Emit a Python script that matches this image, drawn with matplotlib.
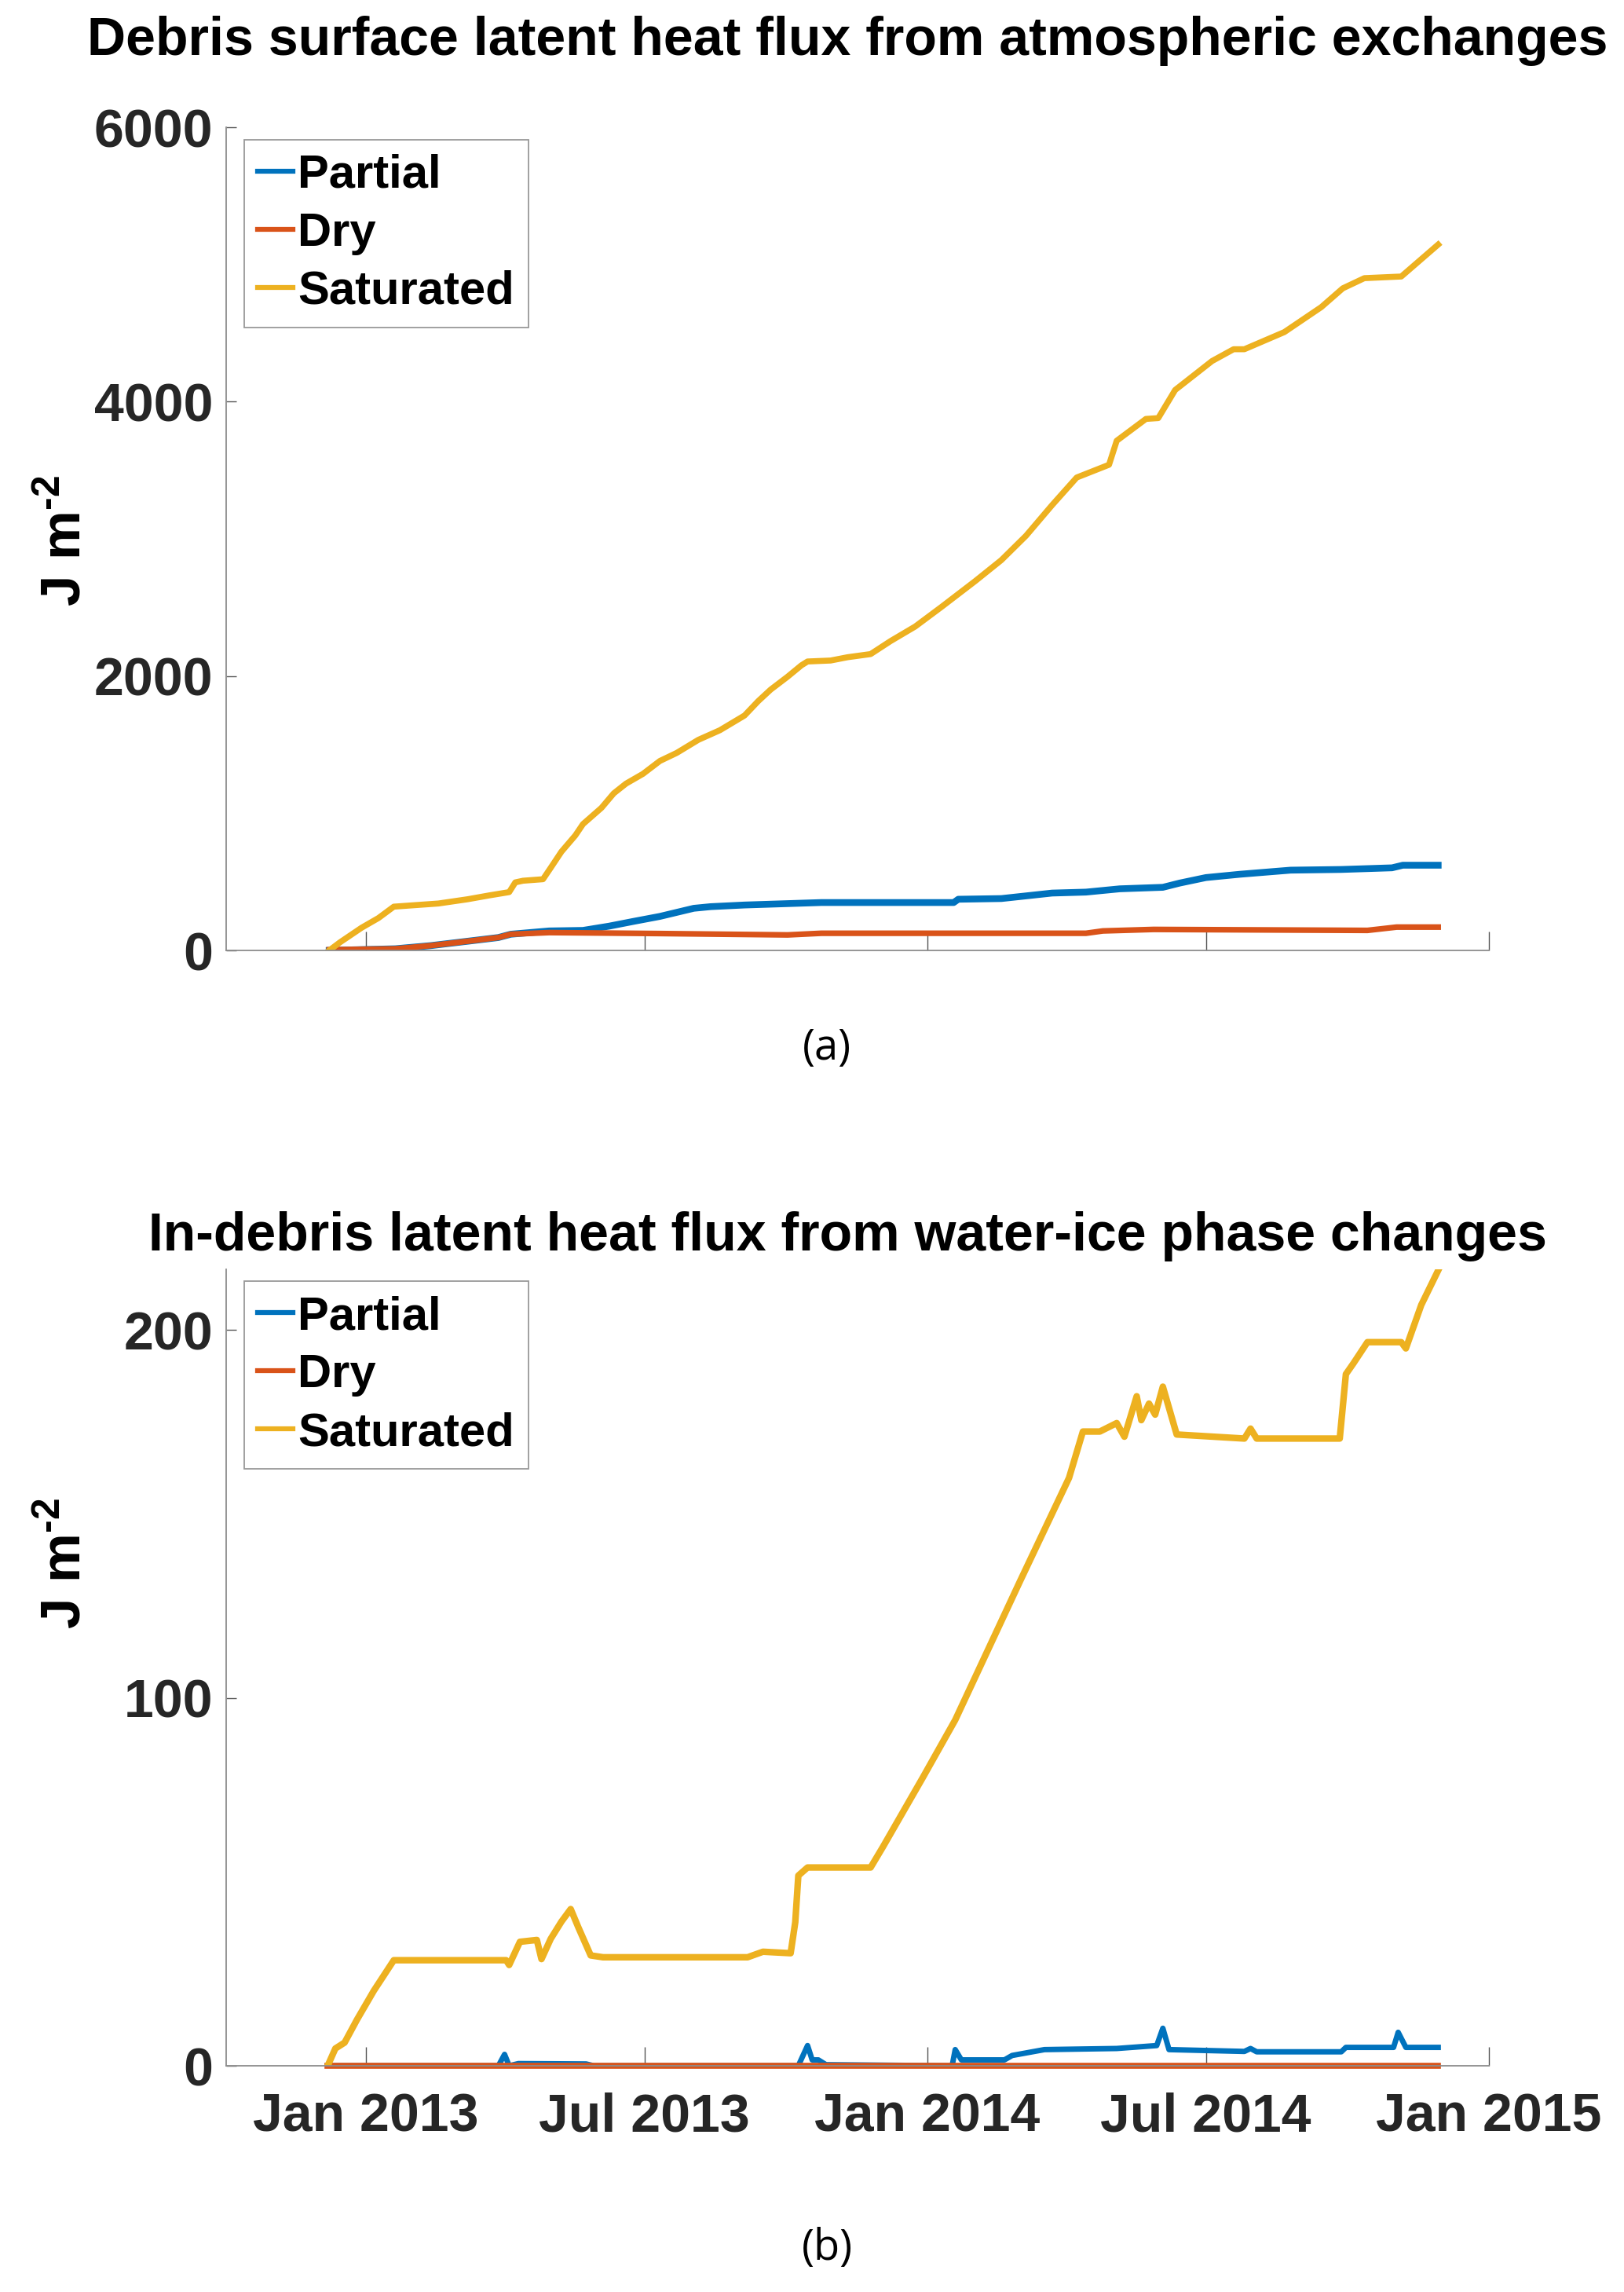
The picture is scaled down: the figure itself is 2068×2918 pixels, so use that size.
import numpy as np
import matplotlib
matplotlib.use("Agg")
import matplotlib.pyplot as plt

# ---------------- data (days since 2013-01-01, values in J m^-2) ----------------
sat_a_day = [-24, -17, -3, 8, 18, 47, 66, 80, 93, 97, 102, 115, 120, 127, 136, 141, 147, 153, 161, 169,
             180, 191, 202, 216, 230, 246, 255, 263, 274, 283, 287, 302, 313, 328, 341, 357, 374, 396,
             413, 429, 446, 462, 483, 488, 507, 515, 526, 550, 564, 571, 597, 621, 635, 649, 673, 697]
sat_a_val = [0, 59, 165, 236, 319, 342, 373, 401, 425, 496, 508, 519, 602, 720, 838, 921, 980, 1039, 1145, 1216,
             1287, 1381, 1440, 1535, 1605, 1712, 1818, 1901, 1995, 2078, 2106, 2113, 2137, 2160, 2255, 2361, 2503, 2692,
             2845, 3022, 3246, 3447, 3540, 3715, 3874, 3880, 4085, 4296, 4382, 4382, 4507, 4689, 4826, 4900, 4912, 5145]

par_a_day = [-24, 19, 42, 69, 86, 94, 119, 141, 158, 174, 191, 213, 224, 246, 296, 382, 385, 413, 446, 468,
             490, 518, 529, 546, 568, 601, 634, 667, 674, 697]
par_a_val = [0, 12, 35, 71, 94, 118, 142, 146, 177, 212, 248, 307, 319, 331, 349, 349, 373, 378, 418, 425,
             449, 460, 491, 531, 555, 585, 590, 602, 621, 621]

dry_a_day = [-24, 19, 42, 69, 86, 94, 119, 191, 274, 296, 468, 479, 512, 651, 670, 697]
dry_a_val = [5, 12, 35, 71, 94, 118, 130, 123, 113, 125, 125, 142, 153, 146, 170, 170]

sat_b_day = [-25, -20, -14, -6, 5, 18, 91, 93, 100, 111, 114, 120, 127, 133, 138, 146, 154, 248, 258, 276,
             279, 281, 287, 328, 336, 362, 383, 404, 425, 441, 457, 466, 477, 488, 493, 501, 504, 509, 513,
             518, 527, 571, 575, 579, 633, 637, 642, 651, 673, 676, 686, 697]
sat_b_val = [0, 4.7, 6.3, 12.5, 20.4, 28.7, 28.7, 27.4, 33.7, 34.2, 29.0, 34.5, 39.2, 42.6, 37.6, 30.0, 29.5, 29.5, 31.0, 30.6,
             39.0, 51.7, 53.9, 53.9, 59.5, 78.4, 94.0, 112.8, 131.6, 145.7, 159.8, 172.4, 172.4, 174.7, 171.0, 182.0, 175.5, 180.0, 177.0,
             184.6, 171.6, 170.5, 173.2, 170.5, 170.5, 188.0, 191.0, 196.7, 196.7, 195.0, 206.8, 216.2]

par_b_day = [-25, 86, 90, 93, 99, 143, 148, 281, 287, 290, 294, 299, 381, 383, 387, 415, 420, 441, 488, 514,
             518, 522, 571, 575, 579, 634, 637, 668, 671, 676, 697]
par_b_val = [0, 0, 3.1, 0, 0.6, 0.5, 0, 0, 5.5, 1.6, 1.6, 0.3, 0, 4.4, 1.6, 1.6, 2.8, 4.4, 4.7, 5.5,
             10.2, 4.4, 3.9, 4.7, 3.8, 3.8, 5.0, 5.0, 9.1, 5.0, 5.0]

dry_b_day = [-25, 697]
dry_b_val = [0, 0]

series_names = ["Partial", "Dry", "Saturated"]
colors = ["#0072BD", "#D95319", "#EDB120"]

title_a = "Debris surface latent heat flux from atmospheric exchanges"
title_b = "In-debris latent heat flux from water-ice phase changes"
ylabel = r"J m$^{\text{-2}}$"

# ---------------- helpers ----------------
base = np.datetime64("2013-01-01")
def to_dates(days):
    return (base + np.array(days, dtype="timedelta64[D]")).astype("datetime64[D]").astype(object)

plt.rcParams["font.family"] = ["Liberation Sans", "DejaVu Sans"]
plt.rcParams["mathtext.fontset"] = "custom"
plt.rcParams["mathtext.rm"] = "Liberation Sans:bold"
plt.rcParams["mathtext.bf"] = "Liberation Sans:bold"
plt.rcParams["mathtext.it"] = "Liberation Sans:bold"

W, H = 2068, 2918
fig = plt.figure(figsize=(W / 100, H / 100), dpi=100)

ax_a = fig.add_axes([288 / W, 1 - 1210 / H, 1608 / W, 1048 / H])
ax_b = fig.add_axes([288 / W, 1 - 2630 / H, 1608 / W, 1014 / H])

xlim = (np.datetime64("2012-10-02").astype(object), np.datetime64("2015-01-01").astype(object))
xticks = [np.datetime64(d).astype(object) for d in ["2013-01-01", "2013-07-01", "2014-01-01", "2014-07-01", "2015-01-01"]]
xticklabels = ["Jan 2013", "Jul 2013", "Jan 2014", "Jul 2014", "Jan 2015"]

TICK_FS = 49
LEG_FS = 43

def style(ax, yticks, ylim, show_xlabels):
    for s in ["top", "right"]:
        ax.spines[s].set_visible(False)
    for s in ["left", "bottom"]:
        ax.spines[s].set_color("#8c8c8c")
        ax.spines[s].set_linewidth(1.3)
    ax.set_xlim(*xlim)
    ax.set_ylim(*ylim)
    ax.set_xticks(xticks)
    ax.set_yticks(yticks)
    ax.set_yticklabels([str(t) for t in yticks], fontsize=TICK_FS, fontweight="bold", color="#262626")
    if show_xlabels:
        ax.set_xticklabels(xticklabels, fontsize=TICK_FS, fontweight="bold", color="#262626")
    else:
        ax.set_xticklabels([])
    ax.tick_params(axis="x", direction="in", length=17, width=1.0, color="#555555", pad=24)
    ax.tick_params(axis="y", direction="in", length=9, width=1.0, color="#555555", pad=12)
    leg = ax.legend(loc="upper left", bbox_to_anchor=(0.014, 0.985), fontsize=LEG_FS, frameon=True,
                    fancybox=False, handlelength=0.75, handletextpad=0.1, borderpad=0.3,
                    labelspacing=0.32, borderaxespad=0.0)
    leg.get_frame().set_edgecolor("#7f7f7f")
    leg.get_frame().set_linewidth(1.3)
    for t in leg.get_texts():
        t.set_fontweight("bold")
    for lh in leg.get_lines():
        lh.set_linewidth(4.5)

# Panel (a)
ax_a.plot(to_dates(par_a_day), par_a_val, color=colors[0], lw=6.2, label=series_names[0], solid_joinstyle="round")
ax_a.plot(to_dates(dry_a_day), dry_a_val, color=colors[1], lw=5.2, label=series_names[1], solid_joinstyle="round")
ax_a.plot(to_dates(sat_a_day), sat_a_val, color=colors[2], lw=5.5, label=series_names[2], solid_joinstyle="round")
style(ax_a, [0, 2000, 4000, 6000], (0, 6000), False)

# Panel (b)
ax_b.plot(to_dates(par_b_day), par_b_val, color=colors[0], lw=5.0, label=series_names[0], solid_joinstyle="round")
ax_b.plot(to_dates(dry_b_day), dry_b_val, color=colors[1], lw=5.5, label=series_names[1], solid_joinstyle="round",
          clip_on=False)
ax_b.plot(to_dates(sat_b_day), sat_b_val, color=colors[2], lw=6.0, label=series_names[2], solid_joinstyle="round")
style(ax_b, [0, 100, 200], (0, 216.5), True)

# Titles
fig.text(0.522, 1 - 52 / H, title_a, ha="center", va="center", fontsize=49, fontweight="bold")
fig.text(0.522, 1 - 1574 / H, title_b, ha="center", va="center", fontsize=49, fontweight="bold")

# Y labels
fig.text(84 / W, 1 - 689 / H, ylabel, rotation=90, ha="center", va="center", fontsize=51, fontweight="bold")
fig.text(84 / W, 1 - 1991 / H, ylabel, rotation=90, ha="center", va="center", fontsize=51, fontweight="bold")

# Panel labels
fig.text(1053 / W, 1 - 1334 / H, "(a)", ha="center", va="center", fontsize=39, family=["Open Sans", "DejaVu Sans"])
fig.text(1053 / W, 1 - 2862 / H, "(b)", ha="center", va="center", fontsize=39, family=["Open Sans", "DejaVu Sans"])

fig.savefig("out.png", dpi=100, facecolor="white")
